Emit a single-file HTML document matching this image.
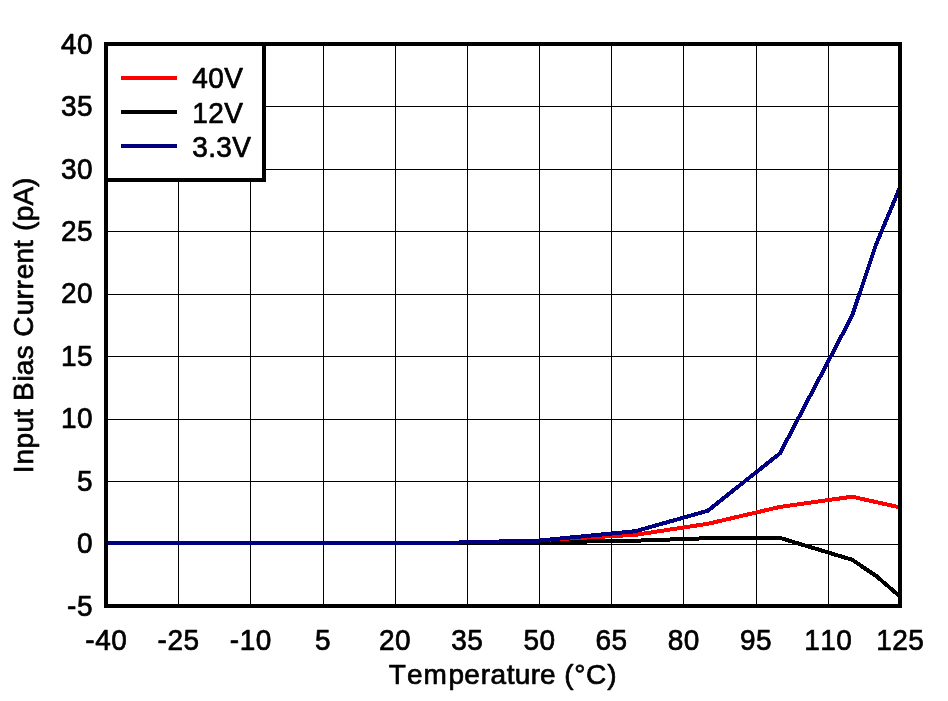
<!DOCTYPE html>
<html lang="en"><head><meta charset="utf-8"><title>Input Bias Current vs Temperature</title>
<style>
html,body{margin:0;padding:0;background:#fff;}
body{width:948px;height:701px;overflow:hidden;}
svg{display:block;}
text{font-family:"Liberation Sans",Arial,Helvetica,sans-serif;font-size:28px;fill:#000;stroke:#000;stroke-width:0.7px;stroke-linejoin:round;}
</style></head><body>
<svg width="948" height="701" viewBox="0 0 948 701">
<rect x="0" y="0" width="948" height="701" fill="#fff"/>
<g shape-rendering="crispEdges" fill="#000">
<rect x="178" y="44" width="1" height="562"/>
<rect x="250" y="44" width="1" height="562"/>
<rect x="323" y="44" width="1" height="562"/>
<rect x="395" y="44" width="1" height="562"/>
<rect x="467" y="44" width="1" height="562"/>
<rect x="539" y="44" width="1" height="562"/>
<rect x="611" y="44" width="1" height="562"/>
<rect x="683" y="44" width="1" height="562"/>
<rect x="756" y="44" width="1" height="562"/>
<rect x="828" y="44" width="1" height="562"/>
<rect x="106" y="106" width="794" height="1"/>
<rect x="106" y="169" width="794" height="1"/>
<rect x="106" y="231" width="794" height="1"/>
<rect x="106" y="294" width="794" height="1"/>
<rect x="106" y="356" width="794" height="1"/>
<rect x="106" y="419" width="794" height="1"/>
<rect x="106" y="481" width="794" height="1"/>
<rect x="106" y="544" width="794" height="1"/>
</g>
<clipPath id="c"><rect x="106" y="44" width="792" height="562"/></clipPath>
<g clip-path="url(#c)" fill="none" stroke-width="4" stroke-linejoin="round" shape-rendering="crispEdges">
<polyline stroke="#000000" points="106.3,543.0 467.2,543.0 539.4,542.3 635.7,540.7 707.8,538.2 780.0,537.9 852.2,559.8 876.3,576.1 900.3,596.7"/>
<polyline stroke="#ff0000" points="106.3,543.0 439.1,543.0 539.4,540.5 551.5,539.5 635.7,534.8 707.8,523.8 780.0,506.9 852.2,496.7 900.3,507.5"/>
<polyline stroke="#000080" points="106.3,543.0 439.1,543.0 539.4,540.5 635.7,531.2 707.8,510.7 780.0,453.3 852.2,315.6 876.3,243.8 900.3,186.6"/>
</g>
<g shape-rendering="crispEdges">
<rect x="106" y="44" width="794" height="562" fill="none" stroke="#000" stroke-width="4"/>
<rect x="106" y="44" width="158" height="136" fill="#fff" stroke="#000" stroke-width="4"/>
<rect x="121" y="76" width="56" height="4" fill="#ff0000"/>
<rect x="121" y="110" width="56" height="4" fill="#000"/>
<rect x="121" y="144" width="56" height="4" fill="#000080"/>
</g>
<text transform="translate(0,88.35) scale(1,1.064)" x="192.30 208.30 224.30" y="0">40V</text>
<text transform="translate(0,122.65) scale(1,1.064)" x="192.30 208.30 224.30" y="0">12V</text>
<text transform="translate(0,156.65) scale(1,1.064)" x="192.30 208.30 216.30 232.30" y="0">3.3V</text>
<text transform="translate(0,53.65) scale(1,1.064)" x="61.10 77.10" y="0">40</text>
<text transform="translate(0,116.05) scale(1,1.064)" x="61.10 77.10" y="0">35</text>
<text transform="translate(0,178.55) scale(1,1.064)" x="61.10 77.10" y="0">30</text>
<text transform="translate(0,240.95) scale(1,1.064)" x="61.10 77.10" y="0">25</text>
<text transform="translate(0,303.45) scale(1,1.064)" x="61.10 77.10" y="0">20</text>
<text transform="translate(0,365.85) scale(1,1.064)" x="61.10 77.10" y="0">15</text>
<text transform="translate(0,428.35) scale(1,1.064)" x="61.10 77.10" y="0">10</text>
<text transform="translate(0,490.75) scale(1,1.064)" x="77.10" y="0">5</text>
<text transform="translate(0,553.25) scale(1,1.064)" x="77.10" y="0">0</text>
<text transform="translate(0,615.65) scale(1,1.064)" x="67.10 77.10" y="0">-5</text>
<text transform="translate(0,649.65) scale(1,1.064)" x="85.33 95.33 111.33" y="0">-40</text>
<text transform="translate(0,649.65) scale(1,1.064)" x="157.51 167.51 183.51" y="0">-25</text>
<text transform="translate(0,649.65) scale(1,1.064)" x="229.69 239.69 255.69" y="0">-10</text>
<text transform="translate(0,649.65) scale(1,1.064)" x="314.88" y="0">5</text>
<text transform="translate(0,649.65) scale(1,1.064)" x="379.06 395.06" y="0">20</text>
<text transform="translate(0,649.65) scale(1,1.064)" x="451.24 467.24" y="0">35</text>
<text transform="translate(0,649.65) scale(1,1.064)" x="523.42 539.42" y="0">50</text>
<text transform="translate(0,649.65) scale(1,1.064)" x="595.60 611.60" y="0">65</text>
<text transform="translate(0,649.65) scale(1,1.064)" x="667.78 683.78" y="0">80</text>
<text transform="translate(0,649.65) scale(1,1.064)" x="739.97 755.97" y="0">95</text>
<text transform="translate(0,649.65) scale(1,1.064)" x="804.15 820.15 836.15" y="0">110</text>
<text transform="translate(0,649.65) scale(1,1.064)" x="876.33 892.33 908.33" y="0">125</text>
<text transform="translate(0,683.65) scale(1,1.0)" x="388.72 406.96 423.39 448.55 464.26 480.79 490.46 506.73 514.83 530.79 539.96 555.53 564.31 574.28 586.03 607.29" y="0">Temperature (°C)</text>
<text transform="translate(32.75,0) rotate(-90) scale(1,1.0)" x="-473.23 -464.51 -448.45 -432.47 -416.97 -409.19 -400.95 -381.62 -375.14 -359.13 -345.13 -336.87 -315.17 -299.41 -289.51 -279.34 -263.51 -247.97 -240.19 -230.99 -221.35 -205.40 -187.11" y="0">Input Bias Current (pA)</text>
</svg></body></html>
